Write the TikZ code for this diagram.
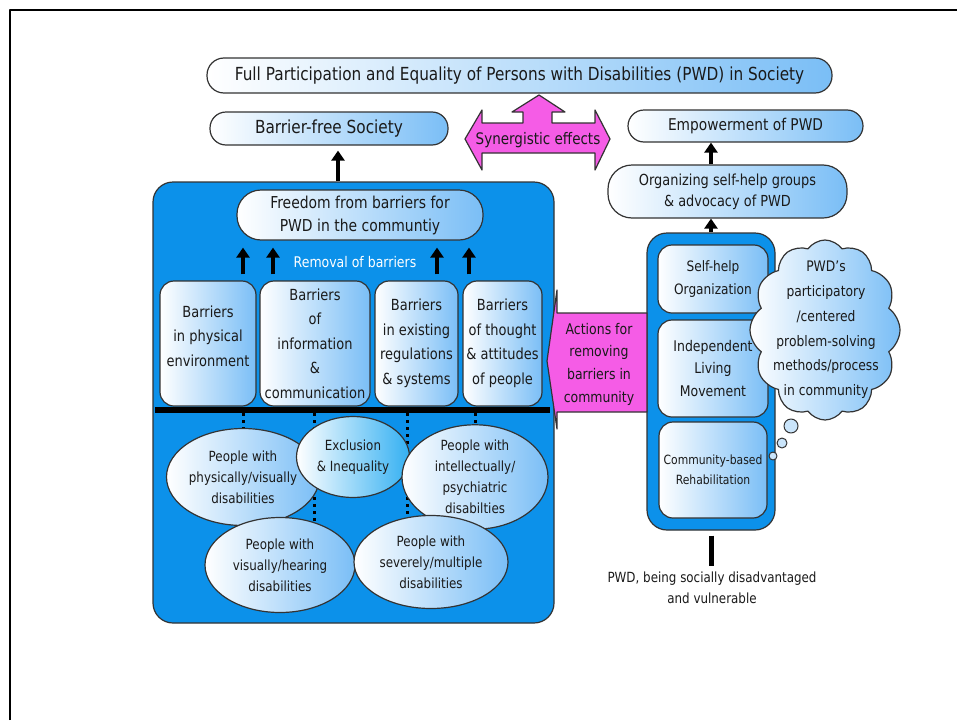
\documentclass[tikz,border=0pt]{standalone}
\usepackage{fontspec}
\setmainfont{DejaVu Sans}[FakeStretch=0.85]
\usetikzlibrary{arrows.meta,shapes.geometric,shapes.symbols}
\definecolor{panelblue}{RGB}{12,145,234}
\definecolor{paleblue}{RGB}{122,190,246}
\definecolor{richblue}{RGB}{52,176,242}
\definecolor{pinkfill}{RGB}{245,92,230}
\definecolor{ink}{RGB}{26,26,26}
\newcommand\sz[2]{\fontsize{#1}{#2}\selectfont}
\tikzset{
  pill/.style={draw=black!80, line width=1.2pt, left color=white, right color=paleblue,
    rounded corners=#1, text=ink, align=center, inner sep=0pt},
  pill/.default=16pt,
  card/.style={draw=black!80, line width=1.2pt, left color=white, right color=paleblue,
    rounded corners=14pt, text=ink, align=center, inner sep=0pt},
  panel/.style={draw=black!80, line width=1.2pt, fill=panelblue, rounded corners=20pt, inner sep=0pt},
  crowd/.style={ellipse, draw=black!80, line width=1.2pt, left color=white, right color=paleblue,
    text=ink, align=center, inner sep=0pt},
  blackarrow/.style={line width=4pt, -{Triangle[width=13pt,length=10pt]}},
  dotline/.style={line width=3pt, dash pattern=on 3pt off 4pt},
  pinkshape/.style={draw=black!80, line width=1.2pt, fill=pinkfill},
  thoughtcloud/.style={cloud, cloud puffs=12, cloud puff arc=110, cloud ignores aspect, draw=black!80, line width=1.2pt,
    left color=white, right color=paleblue, inner sep=0pt},
  bubble/.style={circle, draw=black!80, line width=1pt, fill=white!60!paleblue, inner sep=0pt},
}
\begin{document}
\begin{tikzpicture}[x=1pt, y=-1pt, line join=round]
\useasboundingbox (0,0) rectangle (957,720);
% slide frame
\draw[line width=2.5pt] (10,720) -- (10,10) -- (957,10);

% goals on top
\node[pill=17pt, minimum width=625, minimum height=35, font=\sz{18}{22}] (goal) at (519.5,75.5) {Full Participation and Equality of Persons with Disabilities (PWD) in Society};
\node[pill, minimum width=238, minimum height=33, font=\sz{18}{22}] (barrierfree) at (329,128.5) {Barrier-free Society};
\node[pill, minimum width=235, minimum height=32, font=\sz{16.2}{20}] (empower) at (745.5,126) {Empowerment of PWD};
\node[pill=24pt, minimum width=239, minimum height=53, font=\sz{15.2}{21}] (org) at (727.5,191.5) {Organizing self-help groups\\\& advocacy of PWD};

% synergy arrow
\draw[pinkshape] (465,139) -- (482,110) -- (482,123) -- (523,123) -- (523,112) -- (512,112) -- (539,95)
  -- (565,112) -- (552,112) -- (552,123) -- (595,123) -- (595,110) -- (610,139) -- (595,170)
  -- (595,153) -- (482,153) -- (482,170) -- cycle;
\node[font=\sz{15.9}{18}, text=ink] (syn) at (538,140) {Synergistic effects};

% community side
\node[panel, minimum width=401, minimum height=441] (leftpanel) at (353.5,402.5) {};
\node[pill=24pt, minimum width=246, minimum height=50, font=\sz{16.4}{23}] (freedom) at (360,215) {Freedom from barriers for\\PWD in the communtiy};
\node[text=white, font=\sz{14.7}{18}] (removal) at (355,262) {Removal of barriers};

\node[card, minimum width=96, minimum height=125, font=\sz{15.3}{24.5}] (b1) at (208,343.5) {Barriers\\in physical\\environment\\[-9pt]\mbox{}};
\node[card, minimum width=110, minimum height=125, font=\sz{15.3}{24.5}] (b2) at (315,343.5) {Barriers\\of\\information\\\&\\communication};
\node[card, minimum width=83, minimum height=125, font=\sz{15.3}{24.5}] (b3) at (416.5,343.5) {Barriers\\in existing\\regulations\\\& systems};
\node[card, minimum width=79, minimum height=125, font=\sz{15.3}{24.5}] (b4) at (502.5,343.5) {Barriers\\of thought\\\& attitudes\\of people};
\node[fill=black, inner sep=0pt, minimum width=395, minimum height=6] (floor) at (352.5,410) {};

\coordinate (a0) at (338,0);
\draw[blackarrow, shorten >=5pt] (leftpanel.north -| a0) -- (barrierfree.south -| a0);
\coordinate (r1) at (243,0);
\coordinate (r2) at (273,0);
\coordinate (r3) at (437,0);
\coordinate (r4) at (469,0);
\foreach \b/\r in {b1/r1, b2/r2, b3/r3, b4/r4}
  \draw[blackarrow, shorten <=6pt, shorten >=7pt] (\b.north -| \r) -- (freedom.south -| \r);

% dotted links under the floor
\coordinate (d1) at (243,440);
\coordinate (d2) at (314,540);
\coordinate (d3) at (407,540);
\coordinate (d4) at (475,440);
\foreach \d in {d1,d2,d3,d4}
  \draw[dotline] (floor.south -| \d) -- (\d);

\node[crowd, minimum width=140, minimum height=97, font=\sz{14}{21}] (e1) at (243,477) {People with\\physically/visually\\disabilities};
\node[crowd, right color=richblue, minimum width=113, minimum height=81, font=\sz{14}{21}] (e2) at (353,457) {Exclusion\\\& Inequality};
\node[crowd, minimum width=146, minimum height=97, font=\sz{14}{21}] (e3) at (475,477) {People with\\intellectually/\\psychiatric\\disabilties};
\node[crowd, minimum width=150, minimum height=95, font=\sz{14}{21}] (e4) at (280,565) {People with\\visually/hearing\\disabilities};
\node[crowd, minimum width=154, minimum height=93, font=\sz{14}{21}] (e5) at (431,562) {People with\\severely/multiple\\disabilities};

% PWD side
\node[panel, minimum width=128, minimum height=297] (rightpanel) at (711,381.5) {};
\node[card, minimum width=110, minimum height=68, font=\sz{14.3}{23}] (selfhelp) at (713,279) {Self-help\\Organization};
\node[card, minimum width=110, minimum height=97, font=\sz{14.7}{22.5}] (ilm) at (713,368.5) {Independent\\Living\\Movement};
\node[card, minimum width=108, minimum height=96, font=\sz{12.7}{20}] (cbr) at (713,470) {Community-based\\Rehabilitation};

\draw[blackarrow] (rightpanel.north) -- (org.south -| rightpanel.north);
\draw[blackarrow] (org.north -| rightpanel.north) -- (empower.south -| rightpanel.north);

\draw[pinkshape] (647,313) -- (557,313) -- (557,290) -- (547,361) -- (557,429) -- (557,412) -- (647,412) -- cycle;
\node[align=center, font=\sz{14.7}{22.7}, text=ink] (actions) at (599,364) {Actions for\\removing\\barriers in\\community};

\node[thoughtcloud, minimum width=150, minimum height=180] (cloud) at (825,330) {};
\node[align=center, font=\sz{14.5}{24.8}, text=ink] (cloudtext) at (826,330) {PWD's\\participatory\\/centered\\problem-solving\\methods/process\\in community};
\node[bubble, minimum size=14] (bub1) at (791,426) {};
\node[bubble, minimum size=10] (bub2) at (782,443) {};
\node[bubble, minimum size=8] (bub3) at (773,456) {};

\node[align=center, font=\sz{14}{21}, text=ink] (pwd) at (712,588) {PWD, being socially disadvantaged\\and vulnerable};
\draw[line width=5pt, shorten <=5pt, shorten >=3pt] (rightpanel.south) -- (rightpanel.south |- pwd.north);
\end{tikzpicture}
\end{document}
